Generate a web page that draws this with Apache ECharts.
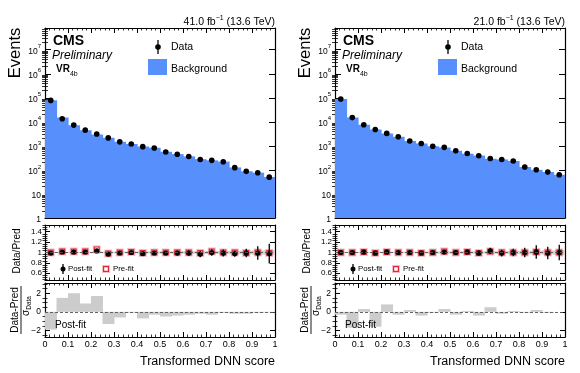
<!DOCTYPE html>
<html><head><meta charset="utf-8">
<script src="https://cdn.jsdelivr.net/npm/echarts@6/dist/echarts.min.js"></script>
<style>html,body{margin:0;padding:0;background:#fff}#c{width:580px;height:373px}</style>
</head><body><div id="c"></div>
<script>
// ---------------- data ----------------
const binEdges = [0,0.05,0.1,0.15,0.2,0.25,0.3,0.35,0.4,0.45,0.5,0.55,0.6,0.65,0.7,0.75,0.8,0.85,0.9,0.95,1];
const binCenters = [0.025,0.075,0.125,0.175,0.225,0.275,0.325,0.375,0.425,0.475,0.525,0.575,0.625,0.675,0.725,0.775,0.825,0.875,0.925,0.975];
const xTickLabels = ['0','0.1','0.2','0.3','0.4','0.5','0.6','0.7','0.8','0.9','1'];
const lumiLabels = ['41.0', '21.0'];
const logTickValues = [1,10,100,1000,10000,100000,1000000,10000000];
const logMantissas = [2,3,4,5,6,7,8,9];
const ratioTickValues = [0.6,0.8,1,1.2,1.4];
const ratioMinorValues = [0.48,0.52,0.56,0.64,0.68,0.72,0.76,0.84,0.88,0.92,0.96,1.04,1.08,1.12,1.16,1.24,1.28,1.32,1.36,1.44,1.48,1.52];
const pullTickValues = [-2,0,2];
const pullMinorValues = [-2.5,-1.5,-1,-0.5,0.5,1,1.5,2.5,3];

const leftData      = [78000,13500,7300,4500,3100,2150,1470,1200,930,820,560,450,360,270,250,220,124,87,76,50];
const leftDataErr   = [280,116,85,67,56,46,38,35,30,29,24,21,19,16,16,15,11,9,9,7];
const leftBkg       = [79000,15000,7200,4450,3000,2200,1480,1200,950,830,565,455,365,280,250,222,127,88,77,51];
const leftRatioPost = [0.99,1.01,1.01,1.01,1.03,0.97,0.99,1.0,0.98,0.99,0.99,0.99,0.99,0.97,1.0,0.99,0.98,0.99,0.99,0.98];
const leftRatioPostErr = [0.005,0.009,0.012,0.015,0.018,0.022,0.026,0.029,0.033,0.035,0.042,0.047,0.053,0.061,0.063,0.067,0.06,0.08,0.13,0.19];
const leftRatioPre  = [1.0,1.02,1.02,1.02,1.06,0.98,1.0,1.01,0.99,1.0,1.0,1.0,1.0,0.99,1.02,1.0,1.0,0.99,1.0,0.99];
const leftRatioPreErr = [0.01,0.01,0.012,0.014,0.016,0.018,0.02,0.022,0.024,0.025,0.028,0.03,0.032,0.035,0.036,0.038,0.045,0.05,0.055,0.06];
const leftBand      = [0.01,0.01,0.01,0.012,0.014,0.015,0.017,0.018,0.02,0.02,0.022,0.024,0.025,0.027,0.028,0.03,0.033,0.036,0.04,0.045];
const leftPull      = [-1.9,1.5,2.0,0.9,1.7,-1.3,-0.6,-0.1,-0.7,-0.3,-0.5,-0.4,-0.3,-0.2,-0.3,-0.1,-0.2,-0.2,-0.1,-0.05];

const rightData      = [89000,15000,7600,4800,3300,2400,1600,1250,960,870,620,480,390,300,270,235,132,102,81,63];
const rightDataErr   = [300,122,87,69,57,49,40,35,31,29,25,22,20,17,16,15,11,10,9,8];
const rightBkg       = [89000,15000,7500,4850,3270,2400,1600,1260,960,860,620,475,395,290,272,235,132,101,82,63];
const rightRatioPost = [1.0,1.0,1.01,0.99,1.01,1.0,1.0,0.99,1.0,1.01,1.0,1.01,0.99,1.03,0.99,1.0,1.0,1.01,0.99,1.0];
const rightRatioPostErr = [0.005,0.01,0.012,0.015,0.018,0.02,0.024,0.028,0.03,0.033,0.04,0.045,0.05,0.06,0.065,0.07,0.09,0.13,0.12,0.15];
const rightRatioPre  = [1.0,1.0,1.01,0.99,1.01,1.0,1.0,0.99,1.0,1.02,1.0,1.01,0.99,1.02,1.0,1.0,1.0,1.01,1.0,1.0];
const rightRatioPreErr = [0.01,0.01,0.012,0.014,0.016,0.018,0.02,0.022,0.024,0.025,0.028,0.03,0.032,0.035,0.036,0.038,0.045,0.05,0.055,0.06];
const rightBand      = [0.01,0.01,0.01,0.012,0.014,0.015,0.017,0.018,0.02,0.02,0.022,0.024,0.025,0.027,0.028,0.03,0.033,0.036,0.04,0.045];
const rightPull      = [-0.3,-1.7,0.3,-1.6,0.8,-0.3,0.2,-0.4,-0.1,0.3,-0.3,0.1,-0.4,0.5,-0.2,0.1,-0.1,0.2,-0.1,0.0];

// ---------------- layout ----------------
const FONT = 'Liberation Sans, Arial, sans-serif';
const BLUE = '#5790fc';
const RED = '#e42536';
const panels = [
  {off:0,   data:leftData,  dataErr:leftDataErr,  bkg:leftBkg,  post:leftRatioPost,  postErr:leftRatioPostErr,  pre:leftRatioPre,  preErr:leftRatioPreErr,  band:leftBand,  pull:leftPull,  lumi:lumiLabels[0]},
  {off:290, data:rightData, dataErr:rightDataErr, bkg:rightBkg, post:rightRatioPost, postErr:rightRatioPostErr, pre:rightRatioPre, preErr:rightRatioPreErr, band:rightBand, pull:rightPull, lumi:lumiLabels[1]}
];
const logMinorValues = [];
logTickValues.forEach(d => logMantissas.forEach(m => { if (d*m < 8e7) logMinorValues.push(d*m); }));

const PL = 45, PW = 230;
const rows = [
  {top:28,  height:190, kind:'main'},
  {top:225, height:55,  kind:'ratio'},
  {top:283, height:54,  kind:'pull'}
];
const LOGMIN = 1, LOGMAX = 8e7;

const grid = [], xAxis = [], yAxis = [], series = [], graphic = [];
const supRich = {
  b: {fontSize:8.5, fontFamily:FONT, color:'#000', lineHeight:12, verticalAlign:'bottom'},
  s: {fontSize:6, fontFamily:FONT, color:'#000', lineHeight:12, verticalAlign:'top'}
};

function xAx(gi, pos, showLabel) {
  return {
    type:'value', gridIndex:gi, position:pos, min:0, max:1, interval:0.1,
    axisLine:{show:true, onZero:false, lineStyle:{color:'#000', width:1.2}},
    axisTick:{show:true, inside:true, length:5, lineStyle:{color:'#000', width:1}},
    minorTick:{show:true, splitNumber:5, length:2.5, lineStyle:{color:'#000', width:0.8}},
    splitLine:{show:false},
    axisLabel:{show:showLabel, margin:3, fontSize:9, fontFamily:FONT, color:'#000',
      formatter:(v)=>xTickLabels[Math.round(v*10)]}
  };
}

function yAx(gi, kind, pos, role) {
  // role: 'major' (with labels if left), 'minor'
  let base;
  if (kind === 'main') base = {type:'log', logBase:10, min:LOGMIN, max:LOGMAX};
  else if (kind === 'ratio') base = {type:'value', min:0.47, max:1.53};
  else base = {type:'value', min:-2.7, max:3.1};
  const majors = kind==='main' ? logTickValues : kind==='ratio' ? ratioTickValues : pullTickValues;
  const minors = kind==='main' ? logMinorValues : kind==='ratio' ? ratioMinorValues : pullMinorValues;
  const ax = Object.assign(base, {gridIndex:gi, position:pos, splitLine:{show:false}, minorTick:{show:false}});
  if (role === 'major') {
    ax.axisLine = {show:true, onZero:false, lineStyle:{color:'#000', width:1.2}};
    ax.axisTick = {show:true, inside:true, length: kind==='main'?6:5, customValues:majors, lineStyle:{color:'#000', width:1}};
    let fmt, rich, fs = 8.5, margin = 4;
    if (kind === 'main') {
      fmt = (v)=>{const e=Math.round(Math.log10(v)); return e===0?'{b|1}':e===1?'{b|10}':'{b|10}{s|'+e+'}';};
      rich = supRich;
    } else if (kind === 'ratio') {
      fmt = (v)=>{const r=Math.round(v*10)/10; return r===1?'1':r.toFixed(1);}; fs = 8; margin = 3;
    } else {
      fmt = (v)=>{const r=Math.round(v); return r<0?'\u2212'+(-r):String(r);};
    }
    ax.axisLabel = {show: pos==='left', customValues:majors, margin:margin, fontSize:fs, fontFamily:FONT, color:'#000', formatter:fmt};
    if (rich) ax.axisLabel.rich = rich;
  } else {
    ax.axisLine = {show:false};
    ax.axisLabel = {show:false};
    ax.axisTick = {show:true, inside:true, length: kind==='main'?3:2.5, customValues:minors, lineStyle:{color:'#000', width:0.8}};
  }
  return ax;
}

panels.forEach((P, pi) => {
  rows.forEach((R, ri) => {
    const gi = pi*3 + ri;
    grid.push({left:P.off+PL, top:R.top, width:PW, height:R.height, show:false});
    xAxis.push(xAx(gi, 'bottom', R.kind==='pull'));
    xAxis.push(xAx(gi, 'top', false));
    yAxis.push(yAx(gi, R.kind, 'left', 'major'));
    yAxis.push(yAx(gi, R.kind, 'right', 'major'));
    yAxis.push(yAx(gi, R.kind, 'left', 'minor'));
    yAxis.push(yAx(gi, R.kind, 'right', 'minor'));

    const xi = gi*2, yi = gi*4;
    if (R.kind === 'main') {
      series.push({type:'custom', xAxisIndex:xi, yAxisIndex:yi, clip:true, silent:true,
        data: P.bkg.map((v,i)=>[binEdges[i], binEdges[i+1], v, LOGMIN]),
        renderItem:(params, api)=>{
          const a = api.coord([api.value(0), api.value(2)]);
          const b = api.coord([api.value(1), api.value(3)]);
          return {type:'rect', shape:{x:a[0], y:a[1], width:b[0]-a[0]+0.6, height:b[1]-a[1]}, style:{fill:BLUE}};
        }});
      series.push({type:'custom', xAxisIndex:xi, yAxisIndex:yi, clip:true, silent:true,
        data: P.data.map((v,i)=>[binCenters[i], v, P.dataErr[i]]),
        renderItem:(params, api)=>{
          const x=api.value(0), y=api.value(1), e=api.value(2);
          const c=api.coord([x,y]), lo=api.coord([x,y-e]), hi=api.coord([x,y+e]);
          return {type:'group', children:[
            {type:'line', shape:{x1:c[0],y1:lo[1],x2:c[0],y2:hi[1]}, style:{stroke:'#000', lineWidth:1.3}},
            {type:'circle', shape:{cx:c[0],cy:c[1],r:2.8}, style:{fill:'#000'}}
          ]};
        }});
    } else if (R.kind === 'ratio') {
      series.push({type:'custom', xAxisIndex:xi, yAxisIndex:yi, clip:true, silent:true,
        data: P.band.map((v,i)=>[binEdges[i], binEdges[i+1], v]),
        renderItem:(params, api)=>{
          const a = api.coord([api.value(0), 1+api.value(2)]);
          const b = api.coord([api.value(1), 1-api.value(2)]);
          return {type:'rect', shape:{x:a[0], y:a[1], width:b[0]-a[0]+0.5, height:b[1]-a[1]}, style:{fill:'#d3d3d3'}};
        },
        markLine:{silent:true, symbol:'none', label:{show:false},
          lineStyle:{type:[3,2], color:'#555', width:0.9}, data:[{yAxis:1}]}});
      series.push({type:'custom', xAxisIndex:xi, yAxisIndex:yi, clip:true, silent:true,
        data: P.pre.map((v,i)=>[binCenters[i], v, P.preErr[i]]),
        renderItem:(params, api)=>{
          const x=api.value(0), y=api.value(1), e=api.value(2);
          const c=api.coord([x,y]), lo=api.coord([x,y-e]), hi=api.coord([x,y+e]);
          const h = Math.max(lo[1]-hi[1], 8);
          return {type:'group', children:[
            {type:'rect', shape:{x:c[0]-4, y:c[1]-h/2, width:8, height:h}, style:{fill:'rgba(228,37,54,0.3)'}},
            {type:'rect', shape:{x:c[0]-2.4, y:c[1]-2.4, width:4.8, height:4.8}, style:{fill:'#fff', stroke:RED, lineWidth:1.2}}
          ]};
        }});
      series.push({type:'custom', xAxisIndex:xi, yAxisIndex:yi, clip:true, silent:true,
        data: P.post.map((v,i)=>[binCenters[i], v, P.postErr[i]]),
        renderItem:(params, api)=>{
          const x=api.value(0), y=api.value(1), e=api.value(2);
          const c=api.coord([x,y]), lo=api.coord([x,y-e]), hi=api.coord([x,y+e]);
          return {type:'group', children:[
            {type:'line', shape:{x1:c[0],y1:lo[1],x2:c[0],y2:hi[1]}, style:{stroke:'#000', lineWidth:1.3}},
            {type:'circle', shape:{cx:c[0],cy:c[1],r:2.6}, style:{fill:'#000'}}
          ]};
        }});
    } else {
      series.push({type:'custom', xAxisIndex:xi, yAxisIndex:yi, clip:true, silent:true,
        data: P.pull.map((v,i)=>[binEdges[i], binEdges[i+1], v]),
        renderItem:(params, api)=>{
          const a = api.coord([api.value(0), api.value(2)]);
          const b = api.coord([api.value(1), 0]);
          return {type:'rect', shape:{x:a[0], y:Math.min(a[1],b[1]), width:b[0]-a[0]+0.5, height:Math.abs(b[1]-a[1])}, style:{fill:'#cccccc'}};
        },
        markLine:{silent:true, symbol:'none', label:{show:false},
          lineStyle:{type:[3,2], color:'#555', width:0.9}, data:[{yAxis:0}]}});
    }
  });

  const o = P.off;
  const T = (x,y,text,font,extra) => graphic.push({type:'text', x:x, y:y, z:100,
    style:Object.assign({text:text, font:font, fill:'#000'}, extra||{})});
  // lumi
  graphic.push({type:'text', x:o+275, y:21, z:100, style:{text:'{n|'+P.lumi+' fb}{s|\u22121}{n| (13.6 TeV)}', align:'right', verticalAlign:'middle',
    rich:{n:{fontSize:10.5, fontFamily:FONT, color:'#000', lineHeight:13, verticalAlign:'bottom'}, s:{fontSize:7, fontFamily:FONT, color:'#000', lineHeight:13, verticalAlign:'top'}}}});
  T(o+53, 41, 'CMS', 'bold 14px '+FONT, {verticalAlign:'middle'});
  T(o+52, 56, 'Preliminary', 'italic 12px '+FONT, {verticalAlign:'middle'});
  graphic.push({type:'text', x:o+56, y:71, z:100, style:{text:'{b|VR}{s|4b}', verticalAlign:'middle',
    rich:{b:{fontSize:10, fontWeight:'bold', fontFamily:FONT, color:'#000', lineHeight:14, verticalAlign:'top'}, s:{fontSize:7, fontFamily:FONT, color:'#000', lineHeight:14, verticalAlign:'bottom'}}}});
  // legend
  graphic.push({type:'line', z:100, shape:{x1:o+158, y1:40, x2:o+158, y2:54}, style:{stroke:'#000', lineWidth:1.3}});
  graphic.push({type:'circle', z:100, shape:{cx:o+158, cy:47, r:2.8}, style:{fill:'#000'}});
  T(o+171, 47, 'Data', '10.5px '+FONT, {verticalAlign:'middle'});
  graphic.push({type:'rect', z:100, shape:{x:o+148, y:59, width:19, height:16}, style:{fill:BLUE}});
  T(o+171, 69, 'Background', '10.5px '+FONT, {verticalAlign:'middle'});
  // axis titles
  graphic.push({type:'text', x:o+15, y:53, rotation:Math.PI/2, z:100, style:{text:'Events', font:'16.5px '+FONT, fill:'#000', align:'center', verticalAlign:'middle'}});
  graphic.push({type:'text', x:o+17, y:251, rotation:Math.PI/2, z:100, style:{text:'Data/Pred', font:'10px '+FONT, fill:'#000', align:'center', verticalAlign:'middle'}});
  graphic.push({type:'text', x:o+15, y:310, rotation:Math.PI/2, z:100, style:{text:'Data-Pred', font:'10px '+FONT, fill:'#000', align:'center', verticalAlign:'middle'}});
  graphic.push({type:'line', z:100, shape:{x1:o+21, y1:286, x2:o+21, y2:334}, style:{stroke:'#000', lineWidth:0.9}});
  graphic.push({type:'text', x:o+27, y:306, rotation:Math.PI/2, z:100, style:{text:'{b|\u03c3}{s|Data}', align:'center', verticalAlign:'middle',
    rich:{b:{fontSize:10, fontFamily:FONT, color:'#000', lineHeight:12, verticalAlign:'top'}, s:{fontSize:6.5, fontFamily:FONT, color:'#000', lineHeight:12, verticalAlign:'bottom'}}}});
  graphic.push({type:'text', x:o+275, y:362, z:100, style:{text:'Transformed DNN score', font:'12.5px '+FONT, fill:'#000', align:'right', verticalAlign:'middle'}});
  // ratio legend
  graphic.push({type:'line', z:100, shape:{x1:o+63, y1:264, x2:o+63, y2:274}, style:{stroke:'#000', lineWidth:1.3}});
  graphic.push({type:'circle', z:100, shape:{cx:o+63, cy:269, r:2.5}, style:{fill:'#000'}});
  T(o+68, 269, 'Post-fit', '7.8px '+FONT, {verticalAlign:'middle'});
  graphic.push({type:'rect', z:100, shape:{x:o+102, y:265, width:8, height:8}, style:{fill:'rgba(228,37,54,0.3)'}});
  graphic.push({type:'rect', z:100, shape:{x:o+103.6, y:266.6, width:4.8, height:4.8}, style:{fill:'#fff', stroke:RED, lineWidth:1.2}});
  T(o+113, 269, 'Pre-fit', '7.8px '+FONT, {verticalAlign:'middle'});
  // pull label
  T(o+55, 325, 'Post-fit', '10px '+FONT, {verticalAlign:'middle'});
});

const chart = echarts.init(document.getElementById('c'), null, {renderer:'canvas'});
chart.setOption({animation:false, backgroundColor:'#fff', grid, xAxis, yAxis, series, graphic});
</script></body></html>
